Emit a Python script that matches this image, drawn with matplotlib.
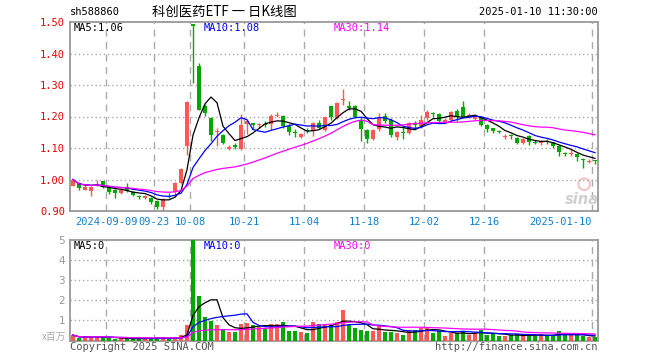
import numpy as np
import pandas as pd
import matplotlib
matplotlib.use('Agg')
import matplotlib.pyplot as plt

plt.rcParams['font.family'] = ['DejaVu Sans Mono', 'Noto Sans CJK SC']

CJK = ['Noto Sans CJK SC', 'DejaVu Sans']

# daily OHLC, 2024-08-30 .. 2025-01-10 (88 sessions)
opens = [0.980, 0.990, 0.968, 0.964, 0.980, 0.994, 0.975, 0.966, 0.958, 0.972,
         0.960, 0.947, 0.942, 0.941, 0.932, 0.914, 0.948, 0.962, 0.990, 1.105,
         1.494, 1.359, 1.234, 1.195, 1.152, 1.142, 1.097, 1.108, 1.097, 1.177,
         1.178, 1.172, 1.177, 1.175, 1.203, 1.203, 1.169, 1.150, 1.136, 1.158,
         1.153, 1.178, 1.158, 1.232, 1.195, 1.252, 1.232, 1.234, 1.188, 1.158,
         1.128, 1.160, 1.202, 1.190, 1.135, 1.150, 1.148, 1.180, 1.170, 1.195,
         1.212, 1.209, 1.182, 1.190, 1.218, 1.230, 1.200, 1.193, 1.197, 1.174,
         1.162, 1.154, 1.135, 1.140, 1.132, 1.117, 1.139, 1.120, 1.117, 1.122,
         1.118, 1.105, 1.085, 1.082, 1.082, 1.064, 1.056, 1.060]
highs = [1.003, 0.993, 0.985, 0.980, 0.998, 0.995, 0.977, 0.970, 0.970, 0.990,
         0.963, 0.952, 0.950, 0.944, 0.935, 0.941, 0.958, 0.992, 1.036, 1.249,
         1.494, 1.369, 1.241, 1.200, 1.165, 1.145, 1.108, 1.115, 1.208, 1.190,
         1.180, 1.180, 1.185, 1.208, 1.213, 1.206, 1.175, 1.160, 1.148, 1.162,
         1.182, 1.190, 1.200, 1.233, 1.245, 1.287, 1.250, 1.236, 1.200, 1.160,
         1.160, 1.210, 1.212, 1.195, 1.155, 1.170, 1.183, 1.185, 1.205, 1.220,
         1.215, 1.210, 1.195, 1.216, 1.225, 1.248, 1.210, 1.208, 1.200, 1.176,
         1.165, 1.158, 1.145, 1.145, 1.135, 1.132, 1.140, 1.125, 1.126, 1.127,
         1.120, 1.108, 1.088, 1.098, 1.085, 1.068, 1.065, 1.063]
lows = [0.978, 0.968, 0.966, 0.947, 0.978, 0.972, 0.953, 0.940, 0.955, 0.960,
        0.948, 0.937, 0.939, 0.922, 0.905, 0.900, 0.940, 0.945, 0.985, 1.079,
        1.305, 1.220, 1.203, 1.121, 1.105, 1.112, 1.094, 1.096, 1.094, 1.145,
        1.160, 1.165, 1.168, 1.156, 1.197, 1.165, 1.140, 1.135, 1.132, 1.147,
        1.137, 1.160, 1.155, 1.190, 1.193, 1.237, 1.222, 1.195, 1.121, 1.115,
        1.125, 1.155, 1.178, 1.135, 1.125, 1.130, 1.145, 1.160, 1.165, 1.190,
        1.200, 1.180, 1.178, 1.187, 1.187, 1.197, 1.195, 1.190, 1.170, 1.150,
        1.148, 1.148, 1.128, 1.130, 1.112, 1.113, 1.110, 1.113, 1.110, 1.113,
        1.100, 1.074, 1.074, 1.075, 1.058, 1.037, 1.052, 1.050]
closes = [1.000, 0.972, 0.977, 0.976, 0.987, 0.976, 0.960, 0.956, 0.967, 0.965,
          0.952, 0.946, 0.947, 0.930, 0.914, 0.939, 0.947, 0.990, 1.034, 1.245,
          1.488, 1.222, 1.212, 1.142, 1.155, 1.115, 1.104, 1.102, 1.174, 1.185,
          1.174, 1.175, 1.174, 1.202, 1.206, 1.170, 1.150, 1.147, 1.145, 1.155,
          1.178, 1.165, 1.198, 1.198, 1.243, 1.256, 1.226, 1.198, 1.160, 1.128,
          1.158, 1.200, 1.187, 1.140, 1.150, 1.148, 1.180, 1.172, 1.190, 1.213,
          1.210, 1.186, 1.190, 1.213, 1.198, 1.200, 1.204, 1.205, 1.174, 1.160,
          1.154, 1.152, 1.138, 1.137, 1.117, 1.129, 1.119, 1.117, 1.122, 1.120,
          1.105, 1.086, 1.083, 1.085, 1.072, 1.062, 1.059, 1.058]
# volume, millions
volumes = [0.27, 0.10, 0.15, 0.22, 0.18, 0.18, 0.10, 0.07, 0.10, 0.10,
           0.07, 0.10, 0.10, 0.10, 0.15, 0.15, 0.07, 0.15, 0.25, 0.77,
           5.00, 2.22, 1.15, 0.98, 0.77, 0.57, 0.43, 0.43, 0.82, 0.88,
           0.77, 0.68, 0.55, 0.82, 0.82, 0.93, 0.48, 0.48, 0.43, 0.38,
           0.92, 0.82, 0.77, 0.77, 0.93, 1.52, 0.82, 0.63, 0.52, 0.47,
           0.47, 0.72, 0.43, 0.43, 0.35, 0.27, 0.52, 0.52, 0.63, 0.65,
           0.38, 0.47, 0.22, 0.38, 0.35, 0.47, 0.27, 0.35, 0.52, 0.27,
           0.35, 0.22, 0.22, 0.27, 0.32, 0.22, 0.27, 0.22, 0.32, 0.22,
           0.27, 0.47, 0.27, 0.27, 0.27, 0.22, 0.18, 0.18]

tick_idx = [6, 14, 20, 29, 39, 49, 59, 69, 87]
tick_lbl = ['2024-09-09', '09-23', '10-08', '10-21', '11-04', '11-18',
            '12-02', '12-16', '2025-01-10']

price_ma_lbl = ['MA5:1.06', 'MA10:1.08', 'MA30:1.14']
vol_ma_lbl = ['MA5:0', 'MA10:0', 'MA30:0']

RED = '#ff5656'
GREEN = '#00a800'
MA_COLORS = ['black', '#0000ff', '#ff00ff']
GRID = '#aaaaaa'
W, H = 660, 360


def px(x, y):
    return x / W, 1 - y / H


o = np.array(opens)
c = np.array(closes)
n = len(c)
x = np.arange(n)
cols = np.where(c >= o, RED, GREEN)

fig = plt.figure(figsize=(6.6, 3.6), dpi=100)
ax = fig.add_axes([70 / W, 1 - 211 / H, 528 / W, 189 / H])
axv = fig.add_axes([70 / W, 1 - 340.5 / H, 528 / W, 100.5 / H])

# candles
ax.vlines(x, lows, highs, colors=cols, lw=1, zorder=2)
body = np.abs(c - o)
bh = np.maximum(body, 0.003)
bottom = np.minimum(o, c) - (bh - body) / 2
ax.bar(x, bh, bottom=bottom, width=0.8, color=cols, linewidth=0, zorder=3)

s = pd.Series(c)
for win, col in zip([5, 10, 30], MA_COLORS):
    ax.plot(x, s.rolling(win, min_periods=1).mean(), color=col, lw=0.9, zorder=4)

axv.bar(x, volumes, width=0.8, color=cols, linewidth=0, zorder=3)
sv = pd.Series(volumes)
for win, col in zip([5, 10, 30], MA_COLORS):
    axv.plot(x, sv.rolling(win, min_periods=1).mean(), color=col, lw=0.9, zorder=4)

grid_x = [i - 0.5 for i in tick_idx]
for a in (ax, axv):
    a.set_xlim(-0.5, n - 0.5)
    for gx in grid_x:
        a.axvline(gx, color=GRID, lw=1, ls=(0, (5, 4)), zorder=1)
    for sp in a.spines.values():
        sp.set_color('#999999')
        sp.set_linewidth(1.3)
    a.tick_params(length=0)

ax.set_ylim(0.90, 1.50)
yt = [0.9, 1.0, 1.1, 1.2, 1.3, 1.4, 1.5]
ax.set_yticks(yt)
ax.set_yticklabels(['%.2f' % v for v in yt], color='#ee0000', fontsize=7.5)
for v in yt[1:-1]:
    ax.axhline(v, color=GRID, lw=1, ls=(0, (1, 2)), zorder=1)
ax.set_xticks(grid_x)
ax.set_xticklabels(tick_lbl, color='#1080d0', fontsize=7.5)
ax.tick_params(axis='x', pad=4)
ax.get_xticklabels()[-1].set_ha('right')

axv.set_ylim(0, 5)
axv.set_yticks([1, 2, 3, 4, 5])
axv.set_yticklabels(['1', '2', '3', '4', '5'], color='#999999', fontsize=7.5,
                    family='DejaVu Sans')
for v in [1, 2, 3, 4]:
    axv.axhline(v, color=GRID, lw=1, ls=(0, (1, 2)), zorder=1)
axv.set_xticks([])

# labels
for lbl, col, lx in zip(price_ma_lbl, MA_COLORS, [74, 204, 334]):
    fig.text(*px(lx, 28), lbl, color=col, fontsize=7.5, va='center')
for lbl, col, lx in zip(vol_ma_lbl, MA_COLORS, [74, 204, 334]):
    fig.text(*px(lx, 246), lbl, color=col, fontsize=7.5, va='center')

fig.text(*px(70, 12), 'sh588860', fontsize=7.5, va='center')
fig.text(*px(224, 12), '科创医药ETF 一 日K线图', fontsize=9.6, va='center',
         ha='center', family=CJK)
fig.text(*px(598, 12), '2025-01-10 11:30:00', fontsize=7.5, va='center', ha='right')
fig.text(*px(66, 337), 'x百万', fontsize=7, va='center', ha='right',
         color='#aaaaaa', family=CJK)
fig.text(*px(70, 347), 'Copyright 2025 SINA.COM', fontsize=7.5, va='center',
         color='#555555')
fig.text(*px(597, 347), 'http://finance.sina.com.cn', fontsize=7.5, va='center',
         ha='right', color='#555555')
# faint sina watermark
ax.scatter([85.2], [0.985], s=70, facecolors='none', edgecolors='#f4c4c4',
           linewidths=1.5, zorder=0)
fig.text(*px(582, 199), 'sina', fontsize=10.5, va='center', ha='center',
         color='#d0d0d0', style='italic', weight='bold', family='DejaVu Sans')

fig.savefig('out.png', dpi=100)
